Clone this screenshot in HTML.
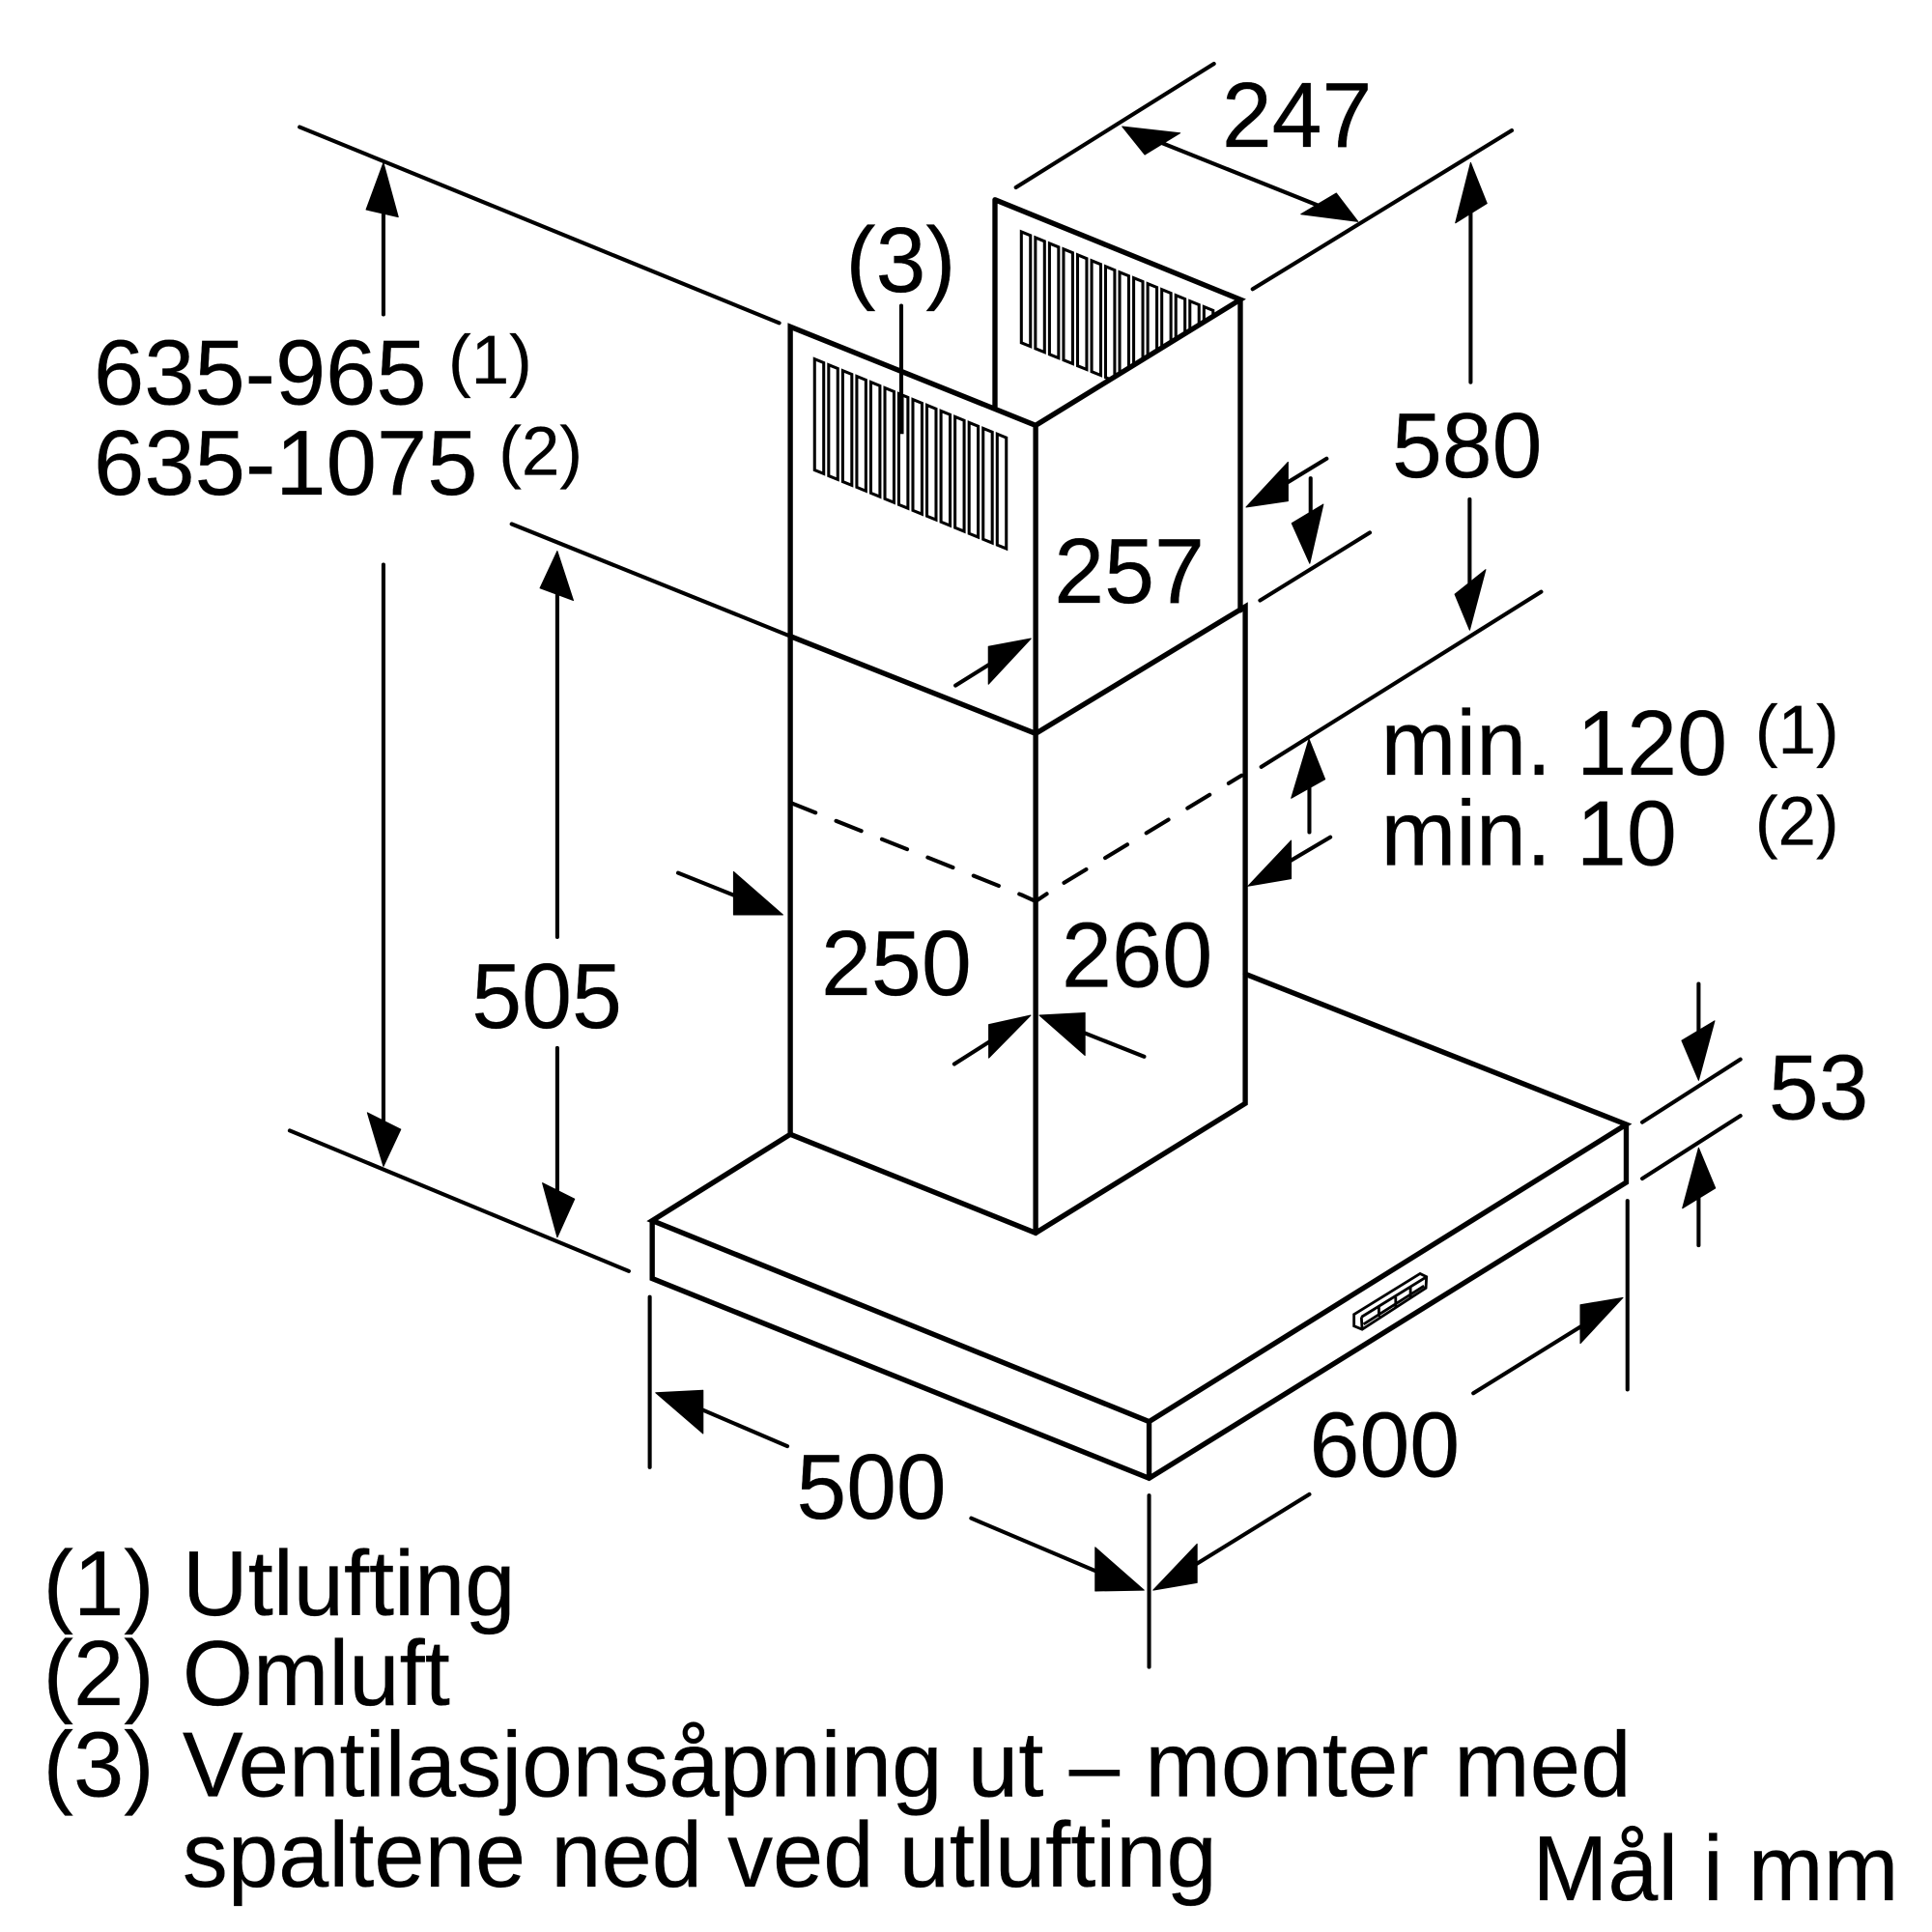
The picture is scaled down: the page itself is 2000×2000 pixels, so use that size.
<!DOCTYPE html>
<html><head><meta charset="utf-8"><style>
html,body{margin:0;padding:0;background:#fff}
svg{display:block}
text{font-family:"Liberation Sans",sans-serif;fill:#000;stroke:#000;stroke-width:.2}
.t{font-size:75px}.s{font-size:56px}
.m{fill:none;stroke:#000;stroke-width:4.2;stroke-linecap:round;stroke-linejoin:miter}
.d{fill:none;stroke:#000;stroke-width:3.2;stroke-linecap:round}
.h{fill:#000;stroke:#000;stroke-width:.8;stroke-linejoin:round}
.v{fill:#fff;stroke:#000;stroke-width:2.4}
</style></head><body>
<svg xmlns="http://www.w3.org/2000/svg" width="2000" height="2000" viewBox="0 0 1567 1567">
<defs>
<clipPath id="c"><polygon points="807,162 1006,243 840,345 807,345"/></clipPath>
<g id="sl">
<polygon class="v" points="660.7,291.2 668.1,294.2 668.1,384.2 660.7,381.2"/>
<polygon class="v" points="672.1,295.9 679.5,298.9 679.5,388.9 672.1,385.9"/>
<polygon class="v" points="683.5,300.6 690.9,303.6 690.9,393.6 683.5,390.6"/>
<polygon class="v" points="694.9,305.2 702.3,308.2 702.3,398.2 694.9,395.2"/>
<polygon class="v" points="706.3,309.9 713.7,312.9 713.7,402.9 706.3,399.9"/>
<polygon class="v" points="717.7,314.6 725.1,317.6 725.1,407.6 717.7,404.6"/>
<polygon class="v" points="729,319.3 736.4,322.3 736.4,412.3 729,409.3"/>
<polygon class="v" points="740.4,324 747.8,327 747.8,417 740.4,414"/>
<polygon class="v" points="751.8,328.6 759.2,331.6 759.2,421.6 751.8,418.6"/>
<polygon class="v" points="763.2,333.3 770.6,336.3 770.6,426.3 763.2,423.3"/>
<polygon class="v" points="774.6,338 782,341 782,431 774.6,428"/>
<polygon class="v" points="786,342.7 793.4,345.7 793.4,435.7 786,432.7"/>
<polygon class="v" points="797.4,347.4 804.8,350.4 804.8,440.4 797.4,437.4"/>
<polygon class="v" points="808.8,352 816.2,355 816.2,445 808.8,442"/>
</g>
</defs>
<rect width="1567" height="1567" fill="#fff"/>

<use href="#sl"/>
<g clip-path="url(#c)"><use href="#sl" transform="translate(167.7,-103.2)"/></g>

<!-- upper chimney -->
<path class="m" d="M807,162V330M807,162L1006,243L840,345L641,265V920M840,345V1000M1006,243V495"/>
<path class="d" d="M731,248V350"/>
<path d="M731,322V352" stroke="#000" stroke-width="4"/>
<!-- lower chimney -->
<path class="m" d="M641,516L840,595L1010,492V895L840,1000L641,920"/>
<!-- dashed -->
<path class="d" stroke-dasharray="22 18" d="M641,651L829,726"/>
<path class="d" stroke-dasharray="21 18" d="M863,716L1007,629"/>
<path class="d" d="M829,726L840,731L849,725"/>
<!-- hood -->
<path class="m" d="M1010,790L1319,912L932,1153L529,990L641,920M529,990V1037L932,1199L1319,959V912M932,1153V1199"/>
<!-- panel -->
<path d="M1098.2,1066.1L1151.8,1033L1157,1035.6L1156.5,1044.7L1104.8,1078.2L1098.2,1075.5ZM1104.2,1068.2L1157,1035.6M1104.2,1068.2L1104.8,1078.2M1106,1074L1155,1043M1118.4,1060L1118.4,1068M1132,1052L1132,1060M1144,1044L1144,1052" fill="none" stroke="#000" stroke-width="2.2"/>

<!-- extension lines -->
<path class="d" d="M243,103L632,262M415,425L641,516M235,917L510,1031M984.6,51.7L824,152M1226.2,105.8L1016,234.5M1250,480L1023,622M1111,432L1022,487M1411.6,859.2L1332,910.2M1411.6,905L1332,955.9M1320,974V1127M527,1052V1190M932,1213V1352"/>
<!-- dimension shafts -->
<path class="d" d="M311,150V255M311,458V925M452,465V760M452,850V985M930,111L1075,169M1192.8,150V310M1192,405V490M1076,372L1030,400M1063,388V440M775,556L815,531M1062,615V675M1079,679L1030,708M550,708L610,732M774,863L815,837M928,857L865,832M1377.7,798V850M1377.7,1010V960M1195,1130L1295,1068M1062,1212L955,1278M638.6,1173L550,1135M787.7,1231.4L900,1279"/>
<!-- arrowheads -->
<polygon class="h" points="311,132 297,170 323,176"/>
<polygon class="h" points="311,946 298,902.5 325,916"/>
<polygon class="h" points="452,447 438,477 465,487"/>
<polygon class="h" points="452,1003.5 440,959.5 466,972.5"/>
<polygon class="h" points="910.2,102.6 957.2,107.9 928.5,125.4"/>
<polygon class="h" points="1101.4,179.7 1083.9,156.7 1055.2,173.7"/>
<polygon class="h" points="1192.8,131.9 1180.5,180.8 1206,165"/>
<polygon class="h" points="1192,511 1180,482 1205,462"/>
<polygon class="h" points="1010.7,411.3 1044.7,374.8 1044.7,406.3"/>
<polygon class="h" points="1062.3,457 1047.7,424.4 1073.3,409"/>
<polygon class="h" points="836.2,517.9 801.7,524.4 801.7,554.9"/>
<polygon class="h" points="1061.7,599.4 1047.3,647.4 1074.7,632"/>
<polygon class="h" points="1012.2,718.7 1047.2,681.7 1047.2,712.7"/>
<polygon class="h" points="635,742 595,707 595,742"/>
<polygon class="h" points="836,823.5 802,831 802,858"/>
<polygon class="h" points="843,823.5 880,821.5 880,856"/>
<polygon class="h" points="1377.7,876.2 1364,844 1390.7,828"/>
<polygon class="h" points="1377.7,931 1364.6,980 1391.3,963.7"/>
<polygon class="h" points="1316.3,1052.5 1281.8,1058.3 1281.8,1089.6"/>
<polygon class="h" points="935.3,1289.7 970.9,1252.3 970.9,1283.7"/>
<polygon class="h" points="531.8,1129.6 570.2,1127.7 570.2,1162.7"/>
<polygon class="h" points="927.9,1289.7 888.3,1255 888.3,1290.4"/>

<!-- labels -->
<text class="t" x="991" y="119" textLength="121.8" lengthAdjust="spacingAndGlyphs">247</text>
<text class="t" x="686" y="236.5" textLength="89.2" lengthAdjust="spacingAndGlyphs">(3)</text>
<text class="t" x="76" y="328" textLength="270" lengthAdjust="spacingAndGlyphs">635-965</text>
<text class="s" x="363.5" y="311" textLength="68" lengthAdjust="spacingAndGlyphs">(1)</text>
<text class="t" x="76" y="401" textLength="311.5" lengthAdjust="spacingAndGlyphs">635-1075</text>
<text class="s" x="404.5" y="385" textLength="68" lengthAdjust="spacingAndGlyphs">(2)</text>
<text class="t" x="1129" y="387" textLength="121.8" lengthAdjust="spacingAndGlyphs">580</text>
<text class="t" x="855" y="489" textLength="122" lengthAdjust="spacingAndGlyphs">257</text>
<text class="t" x="1120" y="628.5" textLength="281" lengthAdjust="spacingAndGlyphs">min. 120</text>
<text class="s" x="1423.5" y="611" textLength="68" lengthAdjust="spacingAndGlyphs">(1)</text>
<text class="t" x="1120" y="701.5" textLength="240" lengthAdjust="spacingAndGlyphs">min. 10</text>
<text class="s" x="1423.5" y="685" textLength="68" lengthAdjust="spacingAndGlyphs">(2)</text>
<text class="t" x="666" y="807" textLength="122" lengthAdjust="spacingAndGlyphs">250</text>
<text class="t" x="861" y="800.5" textLength="122.5" lengthAdjust="spacingAndGlyphs">260</text>
<text class="t" x="382.5" y="833.5" textLength="122" lengthAdjust="spacingAndGlyphs">505</text>
<text class="t" x="1434.5" y="907.5" textLength="81" lengthAdjust="spacingAndGlyphs">53</text>
<text class="t" x="1062" y="1197.5" textLength="122" lengthAdjust="spacingAndGlyphs">600</text>
<text class="t" x="646" y="1231.5" textLength="121.5" lengthAdjust="spacingAndGlyphs">500</text>
<text class="t" x="35" y="1310" textLength="90" lengthAdjust="spacingAndGlyphs">(1)</text>
<text class="t" x="148" y="1310" textLength="270" lengthAdjust="spacingAndGlyphs">Utlufting</text>
<text class="t" x="35" y="1383" textLength="90" lengthAdjust="spacingAndGlyphs">(2)</text>
<text class="t" x="148" y="1383" textLength="217" lengthAdjust="spacingAndGlyphs">Omluft</text>
<text class="t" x="35" y="1457" textLength="90" lengthAdjust="spacingAndGlyphs">(3)</text>
<text class="t" x="148" y="1457" textLength="1175" lengthAdjust="spacingAndGlyphs">Ventilasjonsåpning ut – monter med</text>
<text class="t" x="148" y="1530" textLength="839" lengthAdjust="spacingAndGlyphs">spaltene ned ved utlufting</text>
<text class="t" x="1243" y="1541" textLength="297" lengthAdjust="spacingAndGlyphs">Mål i mm</text>
</svg>
</body></html>
